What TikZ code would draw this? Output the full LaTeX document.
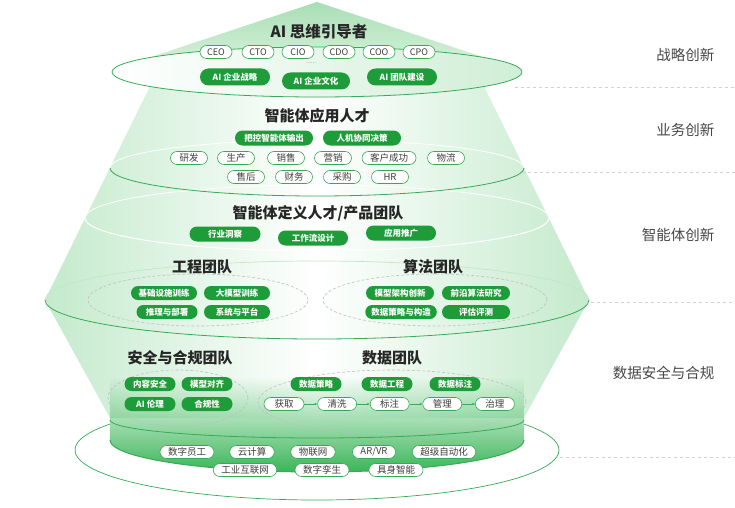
\documentclass[tikz,border=0pt]{standalone}
\usepackage{fontspec}
\setmainfont{Noto Sans CJK SC}
\usetikzlibrary{arrows.meta,positioning,fadings}
\definecolor{pillgreen}{RGB}{30,156,58}
\definecolor{linegreen}{RGB}{56,170,86}
\definecolor{mint}{RGB}{196,234,204}
\definecolor{hatgreen}{RGB}{168,222,180}
\definecolor{cylgreen}{RGB}{58,182,88}
\definecolor{txtgray}{RGB}{62,62,62}
\tikzfading[name=fadeup, top color=transparent!100, bottom color=transparent!0]
\tikzset{
  ttl/.style={font=\fontsize{15}{17}\selectfont\bfseries, text=black!85},
  pill/.style={rectangle, rounded corners=6.5pt, draw=linegreen, fill=white, line width=0.6pt,
    font=\fontsize{9.5}{11}\selectfont, text=txtgray, inner xsep=8pt, inner ysep=1pt,
    minimum height=13pt, minimum width=37pt},
  gpill/.style={rectangle, rounded corners=7pt, fill=pillgreen, text=white,
    font=\fontsize{8.5}{10}\selectfont\bfseries, inner xsep=6pt, inner ysep=1pt,
    minimum height=14pt},
  side/.style={font=\fontsize{14.5}{16}\selectfont, text=black!72, anchor=east},
  sep/.style={dashed, draw=black!18, line width=0.6pt},
  ring/.style={draw=linegreen, line width=0.8pt},
  dring/.style={densely dashed, draw=black!25, line width=0.6pt},
  flow/.style={-{Stealth[length=3pt]}, draw=linegreen, line width=0.6pt},
}

\begin{document}
\begin{tikzpicture}[x=1pt,y=1pt]
  \useasboundingbox (0,0) rectangle (735,507);
  \fill[white] (0,0) rectangle (735,507);

  % base ring and body
  \draw[ring, line width=0.7pt] (110,82.9) arc[start angle=148.8, end angle=391.2, x radius=242pt, y radius=50pt];
  \shade[left color=mint, right color=mint, middle color=white]
    (157,435) -- (45,207) -- (110,89) -- (524,89) -- (589,207) -- (477,435) -- cycle;
  \fill[cylgreen, path fading=fadeup]
    (110,130) -- (110,67) arc[start angle=180, end angle=360, x radius=207pt, y radius=32pt] -- (524,130) -- cycle;

  % back arcs
  \draw[white, line width=0.8pt] (110,339) arc[start angle=180, end angle=0, x radius=207pt, y radius=28pt];
  \draw[white, line width=0.8pt] (85,289) arc[start angle=180, end angle=0, x radius=232pt, y radius=33pt];
  \draw[linegreen!30, line width=0.7pt] (45,207) arc[start angle=180, end angle=0, x radius=272pt, y radius=39pt];

  % hat and top disc
  \shade[top color=hatgreen, bottom color=mint!60] (317,505) -- (112,437) -- (522,437) -- cycle;
  \shadedraw[left color=white, right color=mint!80, draw=linegreen, line width=0.8pt]
    (317,435) ellipse[x radius=205pt, y radius=25pt];

  % front arcs
  \draw[ring] (110,339) arc[start angle=180, end angle=360, x radius=207pt, y radius=28pt];
  \draw[white, line width=1pt] (85,289) arc[start angle=180, end angle=360, x radius=232pt, y radius=33pt];
  \draw[ring] (45,207) arc[start angle=180, end angle=360, x radius=272pt, y radius=39pt];
  \draw[ring] (110,87) arc[start angle=180, end angle=360, x radius=207pt, y radius=18pt];
  \draw[ring, line width=1pt] (110,67) arc[start angle=180, end angle=360, x radius=207pt, y radius=32pt];

  % team rings
  \draw[dring] (198,207) ellipse[x radius=110pt, y radius=26pt];
  \draw[dring] (435,207) ellipse[x radius=112pt, y radius=26pt];
  \draw[dring] (178,109) ellipse[x radius=70pt, y radius=28pt];
  \draw[dring] (392,105) ellipse[x radius=134pt, y radius=32pt];

  % side labels
  \coordinate (s1) at (515,420);
  \coordinate (s2) at (522,335);
  \coordinate (s3) at (591,205);
  \coordinate (s4) at (560,50);
  \draw[sep] (s1) -- (735,420);
  \draw[sep] (s2) -- (735,335);
  \draw[sep] (s3) -- (735,205);
  \draw[sep] (s4) -- (735,50);
  \node[side] (lv1) at (718,452) {战略创新};
  \node[side] (lv2) at (718,377) {业务创新};
  \node[side] (lv3) at (718,272) {智能体创新};
  \node[side] (lv4) at (718,134) {数据安全与合规};

  % layer 1
  \node[ttl, font=\fontsize{15.5}{17}\selectfont\bfseries] (lead) at (319,475) {AI 思维引导者};
  \node[pill, minimum width=32pt, inner xsep=3pt, font=\fontsize{9}{10}\selectfont] (ceo) at (216,455) {CEO};
  \node[pill, minimum width=32pt, inner xsep=3pt, font=\fontsize{9}{10}\selectfont] (cto) at (258,455) {CTO};
  \node[pill, minimum width=32pt, inner xsep=3pt, font=\fontsize{9}{10}\selectfont] (cio) at (298,455) {CIO};
  \node[pill, minimum width=32pt, inner xsep=3pt, font=\fontsize{9}{10}\selectfont] (cdo) at (339,455) {CDO};
  \node[pill, minimum width=32pt, inner xsep=3pt, font=\fontsize{9}{10}\selectfont] (coo) at (379,455) {COO};
  \node[pill, minimum width=32pt, inner xsep=3pt, font=\fontsize{9}{10}\selectfont] (cpo) at (419,455) {CPO};
  \node[font=\fontsize{6}{6}\selectfont, text=black!50] (more) at (311,444) {......};
  \node[gpill, rounded corners=8.5pt, minimum width=70pt, minimum height=17pt] (strat) at (235,430) {AI 企业战略};
  \node[gpill, rounded corners=8.5pt, minimum width=68pt, minimum height=17pt] (cult) at (316,426) {AI 企业文化};
  \node[gpill, rounded corners=8.5pt, minimum width=70pt, minimum height=17pt] (team) at (402,430) {AI 团队建设};

  % layer 2
  \node[ttl] (app) at (317,391) {智能体应用人才};
  \node[gpill, rounded corners=7.5pt, minimum width=78pt, minimum height=15pt] (ctrl) at (274,369) {把控智能体输出};
  \node[gpill, rounded corners=7.5pt, minimum width=78pt, minimum height=15pt] (hmc) at (362,369) {人机协同决策};
  \node[pill] (rd) at (189,349) {研发};
  \node[pill] (prod) at (236,349) {生产};
  \node[pill] (sale) at (286,349) {销售};
  \node[pill] (mkt) at (333,349) {营销};
  \node[pill] (cs) at (389,349) {客户成功};
  \node[pill] (logi) at (446,349) {物流};
  \node[pill] (aft) at (246,330) {售后};
  \node[pill] (fin) at (294,330) {财务};
  \node[pill] (buy) at (342,330) {采购};
  \node[pill] (hr) at (390,330) {HR};

  % layer 3
  \node[ttl] (def) at (318,294) {智能体定义人才/产品团队};
  \node[gpill, rounded corners=7.5pt, minimum width=71pt, minimum height=15pt] (ind) at (225,273) {行业洞察};
  \node[gpill, rounded corners=7.5pt, minimum width=70pt, minimum height=15pt] (wf) at (313,269) {工作流设计};
  \node[gpill, rounded corners=7.5pt, minimum width=70pt, minimum height=15pt] (pro) at (401,274) {应用推广};
  \node[ttl] (eng) at (202,240) {工程团队};
  \node[ttl] (alg) at (433,240) {算法团队};
  \node[gpill, minimum width=66pt] (infra) at (164,214) {基础设施训练};
  \node[gpill, minimum width=66pt] (llm) at (237,214) {大模型训练};
  \node[gpill, minimum width=61pt] (infer) at (167,195) {推理与部署};
  \node[gpill, minimum width=66pt] (sys) at (237,195) {系统与平台};
  \node[gpill, minimum width=68pt] (arch) at (400,214) {模型架构创新};
  \node[gpill, minimum width=68pt] (front) at (476,214) {前沿算法研究};
  \node[gpill, minimum width=70pt] (dstr) at (401,195) {数据策略与构造};
  \node[gpill, minimum width=68pt] (eval) at (476,195) {评估评测};

  % layer 4
  \node[ttl] (safe) at (180,149) {安全与合规团队};
  \node[ttl] (data) at (392,149) {数据团队};
  \node[gpill, minimum width=51pt] (cont) at (150,123) {内容安全};
  \node[gpill, minimum width=51pt] (align) at (207,123) {模型对齐};
  \node[gpill, minimum width=51pt] (eth) at (150,103) {AI 伦理};
  \node[gpill, minimum width=51pt] (comp) at (207,103) {合规性};
  \node[gpill, minimum width=51pt] (dpol) at (316,123) {数据策略};
  \node[gpill, minimum width=51pt] (deng) at (387,123) {数据工程};
  \node[gpill, minimum width=51pt] (dlab) at (455,123) {数据标注};
  \node[pill, minimum width=40pt] (get) at (284,103) {获取};
  \node[pill, minimum width=39pt, right=13pt of get] (clean) {清洗};
  \node[pill, minimum width=39pt, right=13pt of clean] (tag) {标注};
  \node[pill, minimum width=39pt, right=13pt of tag] (mgmt) {管理};
  \node[pill, minimum width=39pt, right=13pt of mgmt] (gov) {治理};
  \draw[flow] (get) -- (clean);
  \draw[flow] (clean) -- (tag);
  \draw[flow] (tag) -- (mgmt);
  \draw[flow] (mgmt) -- (gov);

  % base
  \node[pill] (emp) at (187,55) {数字员工};
  \node[pill] (cloud) at (252,55) {云计算};
  \node[pill] (iot) at (313,55) {物联网};
  \node[pill] (arvr) at (374,55) {AR/VR};
  \node[pill] (auto) at (444,55) {超级自动化};
  \node[pill] (iiot) at (245,37) {工业互联网};
  \node[pill] (twin) at (322,37) {数字孪生};
  \node[pill] (emb) at (396,37) {具身智能};
\end{tikzpicture}
\end{document}
